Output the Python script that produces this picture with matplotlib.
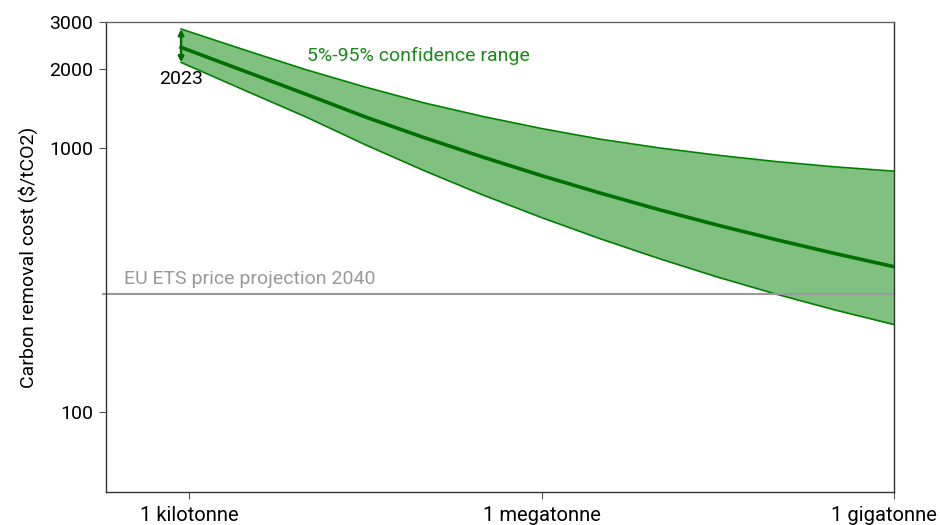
import matplotlib
matplotlib.use("Agg")
import matplotlib.pyplot as plt
import matplotlib.transforms as mtransforms

# cumulative removal (tonnes) and cost ($/tCO2)
volume = [855, 3.16e3, 1e4, 3.16e4, 1e5, 3.16e5, 1e6, 3.16e6, 1e7, 3.16e7, 1e8, 3.16e8, 1e9]
cost_mid = [2405, 1935, 1596, 1312, 1096, 925, 787, 676, 585, 511, 450, 399, 356]
cost_hi = [2822, 2330, 1977, 1702, 1483, 1318, 1186, 1081, 1002, 940, 889, 849, 818]
cost_lo = [2110, 1635, 1309, 1030, 822, 665, 546, 454, 382, 325, 280, 244, 215]
ets_2040 = 280

x_ticks = [1e3, 1e6, 1e9]
x_labels = ["1 kilotonne", "1 megatonne", "1 gigatonne"]
y_ticks = [100, 1000, 2000, 3000]

plt.rcParams["font.family"] = ["Roboto", "DejaVu Sans"]

fig = plt.figure(figsize=(9.4, 5.25), dpi=100)
ax = fig.add_axes([106 / 940, 33 / 525, 788 / 940, 470 / 525])

ax.set_xscale("log")
ax.set_yscale("log")
ax.set_xlim(10 ** 2.293, 1e9)
ax.set_ylim(50, 3000)

ax.fill_between(volume, cost_lo, cost_hi, color="#80c080", lw=0)
ax.plot(volume, cost_hi, color="#008000", lw=1.2)
ax.plot(volume, cost_lo, color="#008000", lw=1.2)
ax.plot(volume, cost_mid, color="#007000", lw=2.6)

ax.axhline(ets_2040, xmin=-0.004, color="#999999", lw=1.5, clip_on=False)
ax.text(10 ** 2.45, ets_2040 * 1.06, "EU ETS price projection 2040",
        color="#999999", fontsize=14, va="bottom", ha="left")

ax.annotate("", xy=(volume[0], cost_hi[0]), xytext=(volume[0], cost_lo[0]),
            arrowprops=dict(arrowstyle="<|-|>", color="#007000", lw=1.8,
                            mutation_scale=8, shrinkA=0, shrinkB=0))
ax.text(volume[0], cost_lo[0] * 0.94, "2023", fontsize=14, ha="center", va="top")
ax.text(10 ** 4.0, 2230, "5%-95% confidence range", color="#1a8a1a",
        fontsize=14, ha="left", va="center")

ax.set_xticks(x_ticks)
ax.set_xticklabels(x_labels)
ax.set_yticks(y_ticks)
ax.set_yticklabels([str(v) for v in y_ticks])
ax.minorticks_off()
ax.tick_params(axis="x", labelsize=14.5, pad=5, length=5, color="#555555")
ax.tick_params(axis="y", labelsize=14, pad=4, length=5, color="#555555")
# last label sits a bit left so it fits inside the figure
last = ax.get_xticklabels()[-1]
last.set_transform(last.get_transform() +
                   mtransforms.ScaledTranslation(-10 / 100, 0, fig.dpi_scale_trans))
for s in ax.spines.values():
    s.set_color("#333333")
    s.set_linewidth(1.0)
ax.spines["top"].set_color("#666666")

ax.set_ylabel("Carbon removal cost ($/tCO2)", fontsize=14, labelpad=8)

fig.savefig("out.png", dpi=100)
